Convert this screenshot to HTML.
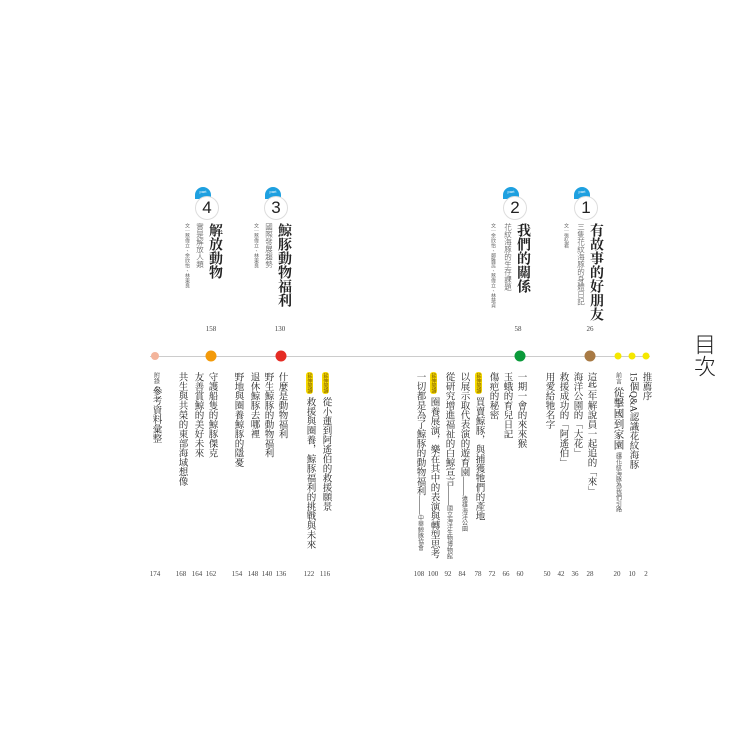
<!DOCTYPE html>
<html><head><meta charset="utf-8"><style>
body{margin:0;width:750px;height:750px;background:#fff;position:relative;overflow:hidden;font-family:"Liberation Serif","Noto Serif CJK SC",serif;color:#222}
.v{position:absolute;writing-mode:vertical-rl;white-space:nowrap;line-height:1}
.e{font-size:9.5px;top:372px;letter-spacing:0}
.tag{display:inline-block;background:#f5d800;color:#7a5a00;font-size:5px;padding:1px 1px;border-radius:3px;margin-bottom:3px;font-family:"Liberation Sans","Noto Sans CJK TC",sans-serif}
.n{position:absolute;top:570px;font-size:7px;font-family:"Liberation Serif",serif;color:#444;transform:translateX(-50%)}
.pn{position:absolute;top:325px;font-size:7px;color:#444;transform:translateX(-50%)}
.dot{position:absolute;border-radius:50%;transform:translate(-50%,-50%)}
.circ{position:absolute;width:22px;height:22px;border-radius:50%;border:1.5px solid #ddd;background:#fff;transform:translate(-50%,-50%);text-align:center;font:300 17px/22px "Liberation Sans",sans-serif;color:#222}
.bub{position:absolute;width:16px;height:12px;border-radius:8px 8px 0 0;background:#1ea0e0;color:#fff;font:4px/10px "Liberation Sans",sans-serif;text-align:center;transform:translate(-50%,-50%)}
.t{font-size:14px;font-weight:bold;top:223px}
.s{font-size:7.5px;top:223px;color:#444;font-family:"Liberation Sans","Noto Sans CJK TC",sans-serif;font-weight:300}
.a{font-size:5px;top:223px;color:#666;font-family:"Liberation Sans","Noto Sans CJK TC",sans-serif}
.sm{font-size:6px;color:#555;font-family:"Liberation Sans","Noto Sans CJK TC",sans-serif}
</style></head><body>
<div style="position:absolute;left:150px;top:356px;width:500px;height:1px;background:#ccc"></div>
<div class="dot" style="left:155px;top:356px;width:8px;height:8px;background:#f3b49b"></div>
<div class="dot" style="left:211px;top:356px;width:11px;height:11px;background:#f39a0a"></div>
<div class="dot" style="left:281px;top:356px;width:11px;height:11px;background:#e52c24"></div>
<div class="dot" style="left:520px;top:356px;width:11px;height:11px;background:#0a9a3a"></div>
<div class="dot" style="left:590px;top:356px;width:11px;height:11px;background:#a87a44"></div>
<div class="dot" style="left:618px;top:356px;width:7px;height:7px;background:#f5e800"></div>
<div class="dot" style="left:632px;top:356px;width:7px;height:7px;background:#f5e800"></div>
<div class="dot" style="left:646px;top:356px;width:7px;height:7px;background:#f5e800"></div>

<div class="v" style="left:692px;top:333px;font-size:22px;font-family:'Liberation Sans','Noto Sans CJK TC',sans-serif;font-weight:300">目次</div>

<div class="bub" style="left:582px;top:193px">part</div><div class="circ" style="left:586px;top:208px">1</div>
<div class="v t" style="left:588px">有故事的好朋友</div>
<div class="v s" style="left:577px">三隻花紋海豚的身體日記</div>
<div class="v a" style="left:563px">文｜張弘君</div>
<div class="pn" style="left:590px">26</div>

<div class="bub" style="left:511px;top:193px">part</div><div class="circ" style="left:515px;top:208px">2</div>
<div class="v t" style="left:515px">我們的關係</div>
<div class="v s" style="left:504px">花紋海豚的生存課題</div>
<div class="v a" style="left:490px">文｜余欣怡、鄭雅蕊、蔡偉立、林慧貞</div>
<div class="pn" style="left:518px">58</div>

<div class="bub" style="left:273px;top:193px">part</div><div class="circ" style="left:276px;top:208px">3</div>
<div class="v t" style="left:276px">鯨豚動物福利</div>
<div class="v s" style="left:265px">國際發展趨勢</div>
<div class="v a" style="left:253px">文｜蔡偉立、林東良</div>
<div class="pn" style="left:280px">130</div>

<div class="bub" style="left:203px;top:193px">part</div><div class="circ" style="left:207px;top:208px">4</div>
<div class="v t" style="left:207px">解放動物</div>
<div class="v s" style="left:196px">實是解放人類</div>
<div class="v a" style="left:184px">文｜蔡偉立、余欣怡、林東良</div>
<div class="pn" style="left:211px">158</div>

<div class="v e" style="left:640px">推薦序</div>
<div class="v e" style="left:627px">15個Q&amp;A認識花紋海豚</div>
<div class="v e" style="left:612px;font-size:10.5px"><span class="sm">前言</span> 從擊國到家園 <span class="sm">讓花紋海豚為我們引路</span></div>
<div class="v e" style="left:585px">這些年解說員一起追的「來」</div>
<div class="v e" style="left:571px">海洋公園的「大花」</div>
<div class="v e" style="left:557px">救援成功的「阿遙伯」</div>
<div class="v e" style="left:543px">用愛給牠名字</div>
<div class="v e" style="left:515px">一期一會的來來猴</div>
<div class="v e" style="left:501px">玉蛾的育兒日記</div>
<div class="v e" style="left:487px">傷疤的秘密</div>
<div class="v e" style="left:473px"><span class="tag">延伸閱讀</span>買賣鯨豚，與捕獲牠們的產地</div>
<div class="v e" style="left:458px">以展示取代表演的遊育園——<span class="sm">遠雄海洋公園</span></div>
<div class="v e" style="left:443px">從研究增進福祉的白鯨宣言——<span class="sm">國立海洋生物博物館</span></div>
<div class="v e" style="left:428px"><span class="tag">延伸閱讀</span>圈養展演，樂在其中的表演與轉型思考</div>
<div class="v e" style="left:414px">一切都是為了鯨豚的動物福利——<span class="sm">中華鯨豚協會</span></div>
<div class="v e" style="left:320px"><span class="tag">延伸閱讀</span>從小蓮到阿遙伯的救援願景</div>
<div class="v e" style="left:304px"><span class="tag">延伸閱讀</span>救援與圈養，鯨豚福利的挑戰與未來</div>
<div class="v e" style="left:276px">什麼是動物福利</div>
<div class="v e" style="left:262px">野生鯨豚的動物福利</div>
<div class="v e" style="left:248px">退休鯨豚去哪裡</div>
<div class="v e" style="left:232px">野地與圈養鯨豚的隱憂</div>
<div class="v e" style="left:206px">守護船隻的鯨豚傑克</div>
<div class="v e" style="left:192px">友善賞鯨的美好未來</div>
<div class="v e" style="left:176px">共生與共榮的東部海域想像</div>
<div class="v e" style="left:150px"><span class="sm">附錄</span> 參考資料彙整</div>

<div class="n" style="left:646px">2</div><div class="n" style="left:632px">10</div><div class="n" style="left:617px">20</div>
<div class="n" style="left:590px">28</div><div class="n" style="left:575px">36</div><div class="n" style="left:561px">42</div><div class="n" style="left:547px">50</div>
<div class="n" style="left:520px">60</div><div class="n" style="left:506px">66</div><div class="n" style="left:492px">72</div><div class="n" style="left:478px">78</div><div class="n" style="left:462px">84</div><div class="n" style="left:448px">92</div><div class="n" style="left:433px">100</div><div class="n" style="left:419px">108</div>
<div class="n" style="left:325px">116</div><div class="n" style="left:309px">122</div>
<div class="n" style="left:281px">136</div><div class="n" style="left:267px">140</div><div class="n" style="left:253px">148</div><div class="n" style="left:237px">154</div>
<div class="n" style="left:211px">162</div><div class="n" style="left:197px">164</div><div class="n" style="left:181px">168</div><div class="n" style="left:155px">174</div>
</body></html>
